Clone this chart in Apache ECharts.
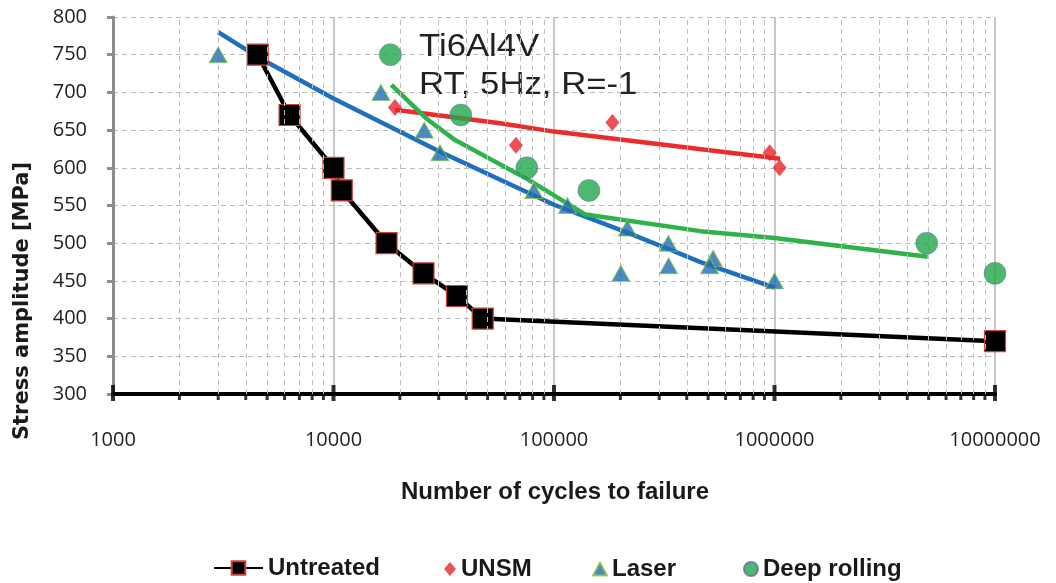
<!DOCTYPE html>
<html>
<head>
<meta charset="utf-8">
<script src="https://cdn.jsdelivr.net/npm/echarts@6/dist/echarts.min.js"></script>
<style>
  html, body { margin: 0; padding: 0; background: #fff; }
  #main { width: 1056px; height: 583px; }
</style>
</head>
<body>
<div id="main"></div>
<script>
// measured points (cycles, stress amplitude MPa)
const untreatedN = [4530, 6320, 10000, 10900, 17400, 25600, 36300, 47500, 10000000];
const untreatedS = [750, 670, 600, 570, 500, 460, 430, 400, 370];
const unsmN = [19000, 67200, 184000, 951000, 1055000];
const unsmS = [680, 630, 660, 620, 600];
const laserN = [3000, 16400, 25800, 30400, 81000, 115000, 215000, 201000, 330000, 331000, 527000, 508000, 1000000];
const laserS = [750, 700, 650, 620, 570, 550, 520, 460, 500, 470, 480, 470, 450];
const rollingN = [18100, 37800, 75300, 144000, 4900000, 10000000];
const rollingS = [750, 670, 600, 570, 500, 460];

// trend lines
const unsmFitN = [19000, 57000, 100000, 1060000];
const unsmFitS = [677, 659, 648, 612];
const laserFitN = [3000, 4530, 10000, 30600, 100000, 215000, 326000, 462000, 1000000];
const laserFitS = [780, 747, 692, 621, 551, 514, 493, 475, 441];
const rollingFitN = [18300, 26700, 35100, 75700, 139000, 462000, 1000000, 4950000];
const rollingFitS = [710, 664, 638, 585, 538, 516, 507, 482];

// axis ticks
const majorTicks = [1000, 10000, 100000, 1000000, 10000000];
const minorTicks = [2000, 3000, 4000, 5000, 6000, 7000, 8000, 9000,
  20000, 30000, 40000, 50000, 60000, 70000, 80000, 90000,
  200000, 300000, 400000, 500000, 600000, 700000, 800000, 900000,
  2000000, 3000000, 4000000, 5000000, 6000000, 7000000, 8000000, 9000000];

const pairs = (xs, ys) => xs.map((x, i) => [x, ys[i]]);

const chart = echarts.init(document.getElementById('main'));
const legendText = { fontFamily: 'Liberation Sans', fontWeight: 'bold', fontSize: 24, color: '#1a1a1a' };

const option = {
  animation: false,
  grid: { left: 113, right: 61, top: 17, bottom: 189 },
  xAxis: {
    type: 'log',
    logBase: 10,
    min: 1000,
    max: 10000000,
    axisLine: { lineStyle: { color: '#000', width: 4 } },
    axisTick: { show: false },
    axisLabel: {
      margin: 36,
      fontFamily: 'Open Sans',
      fontSize: 20,
      lineHeight: 20,
      color: '#222',
      formatter: v => String(Math.round(v))
    },
    splitLine: { show: true, lineStyle: { color: '#b4b4b4', width: 1.5 } }
  },
  yAxis: {
    type: 'value',
    min: 300,
    max: 800,
    interval: 50,
    axisLine: { show: true, lineStyle: { color: '#8c8c8c', width: 3 } },
    axisTick: { show: true, length: 6, lineStyle: { color: '#8c8c8c', width: 3 } },
    axisLabel: { margin: 26, fontFamily: 'Open Sans', fontSize: 20, color: '#222' },
    splitLine: { lineStyle: { color: '#b8b8b8', type: [5, 4], width: 1 } }
  },
  legend: [
    { data: ['Untreated'], left: 213, top: 556, padding: 0, itemWidth: 49, itemHeight: 17, textStyle: legendText },
    { data: ['UNSM'], left: 444, top: 557, padding: 0, itemWidth: 12, itemHeight: 14, textStyle: legendText },
    { data: ['Laser'], left: 592, top: 557, padding: 0, itemWidth: 14, itemHeight: 13, textStyle: legendText },
    { data: ['Deep rolling'], left: 743, top: 557, padding: 0, itemWidth: 14, itemHeight: 14, textStyle: legendText }
  ],
  graphic: [
    {
      type: 'text', x: 23, y: 301, rotation: Math.PI / 2,
      style: {
        text: 'Stress amplitude [MPa]', font: 'bold 21px "DejaVu Sans"',
        fill: '#1a1a1a', align: 'center', verticalAlign: 'middle'
      }
    },
    {
      type: 'text', x: 555, y: 492,
      style: {
        text: 'Number of cycles to failure', font: 'bold 24px "Liberation Sans"',
        fill: '#1a1a1a', align: 'center', verticalAlign: 'middle'
      }
    },
    {
      type: 'text', x: 419, y: 47, scaleX: 1.12, z: 5,
      style: { text: 'Ti6Al4V', font: '31px "Liberation Sans"', fill: '#222', verticalAlign: 'middle' }
    },
    {
      type: 'text', x: 419, y: 85, scaleX: 1.12, z: 5,
      style: { text: 'RT, 5Hz, R=-1', font: '31px "Liberation Sans"', fill: '#222', verticalAlign: 'middle' }
    }
  ],
  series: [
    {
      name: 'minorTicks',
      type: 'scatter',
      silent: true,
      clip: false,
      data: minorTicks.map(v => [v, 300]),
      symbol: 'rect',
      symbolSize: [3, 8],
      symbolOffset: [0, 2],
      itemStyle: { color: '#000' },
      z: 1,
      markLine: {
        silent: true,
        symbol: ['none', 'none'],
        label: { show: false },
        lineStyle: { color: '#bdbdbd', type: [5, 4], width: 1 },
        data: minorTicks.map(v => ({ xAxis: v }))
      }
    },
    {
      name: 'majorTicks',
      type: 'scatter',
      silent: true,
      clip: false,
      data: majorTicks.map(v => [v, 300]),
      symbol: 'rect',
      symbolSize: [4, 16],
      symbolOffset: [0, -1],
      itemStyle: { color: '#000' },
      z: 3
    },
    {
      name: 'Untreated',
      type: 'line',
      data: pairs(untreatedN, untreatedS),
      symbol: 'rect',
      symbolSize: 21,
      clip: false,
      lineStyle: { color: '#000', width: 4.5 },
      itemStyle: { color: '#000', borderColor: '#c8443a', borderWidth: 1.2 },
      z: 4
    },
    {
      name: 'UNSM fit', type: 'line', data: pairs(unsmFitN, unsmFitS),
      showSymbol: false, silent: true, lineStyle: { color: '#ee2b2b', width: 4.5 }, z: 3
    },
    {
      name: 'Laser fit', type: 'line', data: pairs(laserFitN, laserFitS),
      showSymbol: false, silent: true,
      lineStyle: { color: '#1f6fbe', width: 4.5 }, z: 3
    },
    {
      name: 'Deep rolling fit', type: 'line', data: pairs(rollingFitN, rollingFitS),
      showSymbol: false, silent: true, lineStyle: { color: '#2db34a', width: 4.5 }, z: 3
    },
    {
      name: 'UNSM', type: 'scatter', data: pairs(unsmN, unsmS),
      symbol: 'diamond', symbolSize: [14, 17],
      itemStyle: { color: '#e8262a' }, z: 5
    },
    {
      name: 'Laser', type: 'scatter', data: pairs(laserN, laserS),
      symbol: 'triangle', symbolSize: [18, 16],
      itemStyle: { color: '#1f6db5', borderColor: '#8dc63f', borderWidth: 1 }, z: 5
    },
    {
      name: 'Deep rolling', type: 'scatter', data: pairs(rollingN, rollingS), clip: false,
      symbol: 'circle', symbolSize: 22,
      itemStyle: { color: '#22a84a', borderColor: '#6a6aa8', borderWidth: 0.6 }, z: 5
    }
  ]
};

chart.setOption(option);
</script>
</body>
</html>
